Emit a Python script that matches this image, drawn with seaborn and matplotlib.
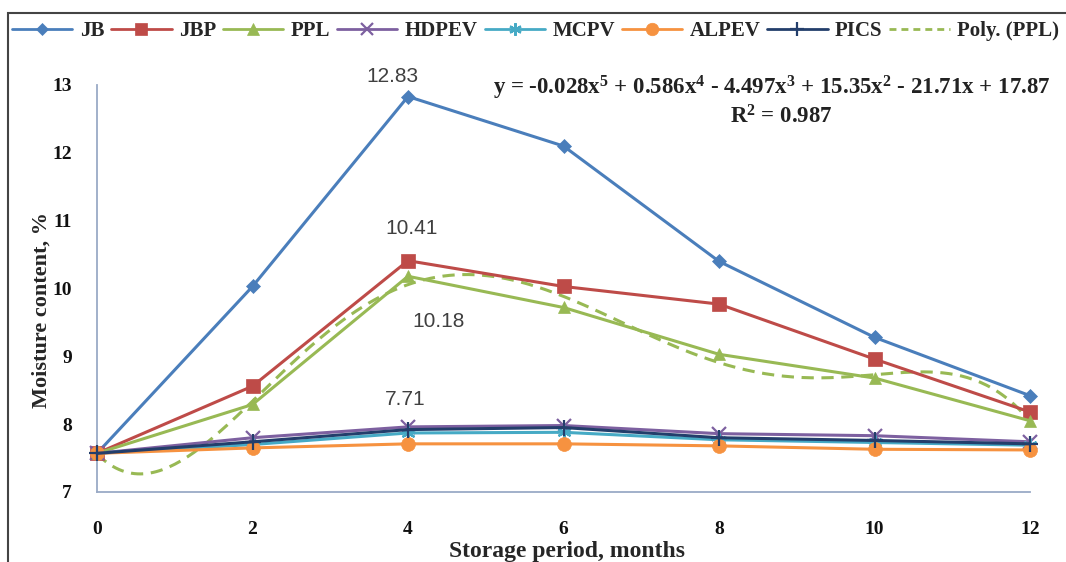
import numpy as np
import pandas as pd
import matplotlib
matplotlib.use("Agg")
import matplotlib.pyplot as plt
from matplotlib.patches import Rectangle
from matplotlib.lines import Line2D
import seaborn as sns

# ---- data ----
months = [0, 2, 4, 6, 8, 10, 12]
JB    = [7.57, 10.03, 12.83, 12.10, 10.40, 9.28, 8.42]
JBP   = [7.57, 8.56, 10.41, 10.03, 9.77, 8.96, 8.18]
PPL   = [7.57, 8.29, 10.18, 9.72, 9.03, 8.68, 8.05]
HDPEV = [7.57, 7.80, 7.96, 7.98, 7.86, 7.83, 7.74]
MCPV  = [7.57, 7.70, 7.87, 7.88, 7.77, 7.73, 7.69]
ALPEV = [7.57, 7.65, 7.71, 7.71, 7.68, 7.63, 7.62]
PICS  = [7.57, 7.74, 7.92, 7.95, 7.80, 7.76, 7.71]
series_names = ["JB", "JBP", "PPL", "HDPEV", "MCPV", "ALPEV", "PICS"]
series_vals = [JB, JBP, PPL, HDPEV, MCPV, ALPEV, PICS]
y_ticks = [7, 8, 9, 10, 11, 12, 13]
x_ticks = [0, 2, 4, 6, 8, 10, 12]
x_tick_labels = ["0", "2", "4", "6", "8", "10", "12"]
equation = "y = -0.028x$^5$ + 0.586x$^4$ - 4.497x$^3$ + 15.35x$^2$ - 21.71x + 17.87"
r2_text = "R$^2$ = 0.987"

# ---- styles ----
colors = {"JB": "#4A7EBB", "JBP": "#BE4B48", "PPL": "#98B954", "HDPEV": "#7D60A0",
          "MCPV": "#46AAC5", "ALPEV": "#F69240", "PICS": "#233E6B"}
markers = {"JB": "D", "JBP": "s", "PPL": "^", "HDPEV": "x", "MCPV": (6, 2, 0),
           "ALPEV": "o", "PICS": "+"}
msizes = {"JB": 7, "JBP": 10, "PPL": 9, "HDPEV": 10, "MCPV": 10, "ALPEV": 10, "PICS": 11}

sns.set_style("white")
plt.rcParams["font.family"] = ["Liberation Serif", "DejaVu Serif"]
plt.rcParams["mathtext.fontset"] = "custom"
plt.rcParams["mathtext.rm"] = "Liberation Serif:bold"
plt.rcParams["mathtext.it"] = "Liberation Serif:bold"
plt.rcParams["mathtext.bf"] = "Liberation Serif:bold"

fig = plt.figure(figsize=(10.66, 5.62), dpi=100)
ax = fig.add_axes([97/1066, 70/562, 933/1066, 407/562])

df = pd.DataFrame({"month": months * len(series_names),
                   "value": sum(series_vals, []),
                   "series": np.repeat(series_names, len(months))})

def mew(mk):
    return 1.6 if mk in ("x", "+") or isinstance(mk, tuple) else 0.5

handles = []
for name in series_names:
    sub = df[df["series"] == name]
    mk = markers[name]
    sns.lineplot(data=sub, x="month", y="value", ax=ax, color=colors[name],
                 marker=mk, markersize=msizes[name], linewidth=2.2,
                 markeredgewidth=mew(mk), markeredgecolor=colors[name],
                 clip_on=False, legend=False, zorder=3)
    handles.append(Line2D([], [], color=colors[name], marker=mk, markersize=msizes[name]*0.9,
                          linewidth=2, markeredgecolor=colors[name],
                          markeredgewidth=mew(mk), label=name))

# polynomial trendline (order 5) of PPL, Excel-style index x
idx = np.arange(1, len(months) + 1)
coef = np.polyfit(idx, PPL, 5)
xf = np.linspace(1, len(months), 300)
yf = np.polyval(coef, xf)
trend = pd.DataFrame({"month": (xf - 1) * 2, "value": yf})
sns.lineplot(data=trend, x="month", y="value", ax=ax, color="#98B954",
             linestyle=(0, (4, 2.5)), linewidth=2.2, legend=False, zorder=2.5)
handles.append(Line2D([], [], color="#98B954", linestyle=(0, (2.5, 1.8)), linewidth=2,
                      label="Poly. (PPL)"))

ax.set_xlim(0, 12)
ax.set_ylim(7, 13)
ax.set_xticks(x_ticks)
ax.set_yticks(y_ticks)
ax.set_xticklabels(x_tick_labels, fontsize=14, fontweight="bold")
ax.set_yticklabels([str(t) for t in y_ticks], fontsize=14, fontweight="bold")
for s in ["top", "right"]:
    ax.spines[s].set_visible(False)
for s in ["left", "bottom"]:
    ax.spines[s].set_color("#9AAAC6")
    ax.spines[s].set_linewidth(1.3)
ax.tick_params(axis="both", direction="out", length=6, width=1.2, color="#9AAAC6",
               labelcolor="#111111")
ax.tick_params(axis="x", pad=15)
ax.tick_params(axis="y", pad=12)
ax.set_xlabel("Storage period, months", fontsize=17, fontweight="bold")
ax.set_ylabel("Moisture content, %", fontsize=16, fontweight="bold")
ax.xaxis.set_label_coords(0.504, (562 - 551 - 70) / 407)
ax.xaxis.label.set_va("center")
ax.yaxis.set_label_coords((42 - 97) / 933, (562 - 310 - 70) / 407)
ax.yaxis.label.set_va("center")
ax.grid(False)

# data labels
lab_kw = dict(fontsize=15, color="#404040", ha="center", va="center",
              family=["Liberation Sans", "DejaVu Sans"])
ax.text(3.8, 13.13, "12.83", **lab_kw)
ax.text(4.04, 10.88, "10.41", **lab_kw)
ax.text(4.39, 9.51, "10.18", **lab_kw)
ax.text(3.96, 8.37, "7.71", **lab_kw)

# equation
fig.text(493/1066, 1 - 88/562, equation, fontsize=16.5, fontweight="bold", color="#222222",
         ha="left", va="center")
fig.text(781/1066, 1 - 117/562, r2_text, fontsize=16.5, fontweight="bold", color="#222222",
         ha="center", va="center")

# legend
leg = fig.legend(handles=handles, loc="center left", bbox_to_anchor=(12/1066, 1 - 31/562),
                 ncol=8, frameon=False, handlelength=2.9, handletextpad=0.35,
                 columnspacing=0.33, borderaxespad=0, borderpad=0,
                 prop={"family": "Liberation Serif", "weight": "bold", "size": 15})

# outer border
fig.patches.append(Rectangle((8/1066, -0.01), 1.1, 1 - 13/562 + 0.01,
                             transform=fig.transFigure, fill=False,
                             edgecolor="#444444", linewidth=1.5, zorder=0))

fig.savefig("out.png", dpi=100)
